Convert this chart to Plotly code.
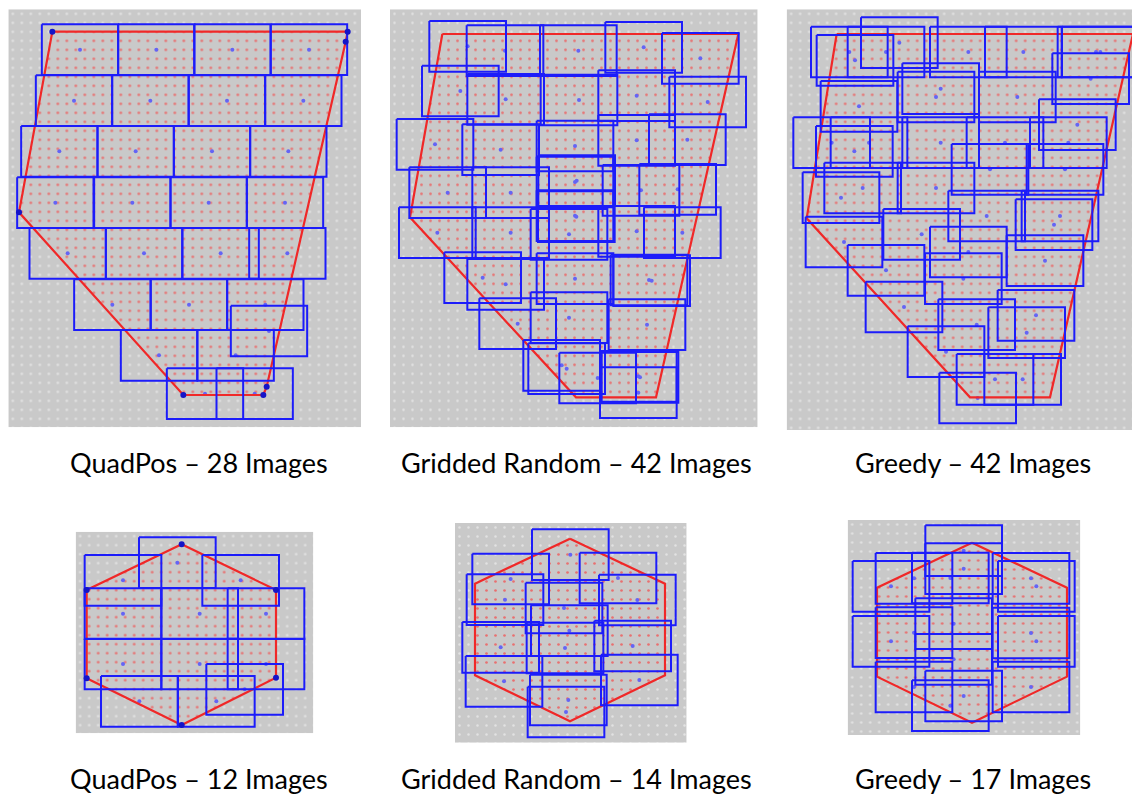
import plotly.graph_objects as go

# ---------------------------------------------------------------------------
# Survey coverage plans: image footprints (blue), survey boundary (red)
# Field coordinates are local survey units, y increasing downward.
# ---------------------------------------------------------------------------

W_PX, H_PX = 1132, 797
UNITS_PER_PX = 3.0

TITLES = [
    "QuadPos \u2013 28 Images",
    "Gridded Random \u2013 42 Images",
    "Greedy \u2013 42 Images",
    "QuadPos \u2013 12 Images",
    "Gridded Random \u2013 14 Images",
    "Greedy \u2013 17 Images",
]

# field extents (x0, x1, y0, y1)
EXTENT_X = [(25, 1083), (30, 1133), (35, 1071), (32, 745), (30, 725), (32, 730)]
EXTENT_Y = [(28, 1282), (28, 1282), (28, 1290), (35, 640), (33, 692), (30, 675)]

# image footprint size (field units)
FOOT_W = [229, 230, 230, 230, 230, 230]
FOOT_H = [152, 152, 152, 152, 152, 152]

# survey boundary polygons
BOUND_X = [
    [157, 1043, 1037, 800, 790, 550, 57],
    [187, 1075, 828, 588, 90],
    [185, 1074, 825, 585, 95],
    [350, 633, 633, 350, 65, 65],
    [375, 660, 660, 375, 90, 90],
    [405, 690, 690, 405, 120, 120],
]
BOUND_Y = [
    [95, 95, 125, 1160, 1185, 1185, 637],
    [102, 102, 1192, 1192, 652],
    [102, 102, 1192, 1192, 655],
    [73, 210, 473, 615, 475, 210],
    [80, 215, 490, 628, 490, 215],
    [98, 233, 500, 638, 500, 233],
]

# image centres
CX_QUAD_A = [240, 469, 697, 927, 222, 451, 681, 910, 178, 407, 636, 865,
             166, 397, 626, 855, 203, 432, 662, 862, 337, 567, 796, 807,
             477, 707, 615, 764]
CY_QUAD_A = [149, 149, 149, 149, 302, 302, 302, 302, 454, 454, 454, 454,
             608, 608, 608, 608, 760, 760, 760, 760, 914, 914, 914, 993,
             1066, 1066, 1181, 1181]

CX_GRID_A = [263, 375, 595, 791, 961, 241, 377, 597, 770, 983, 165, 362,
             585, 770, 922, 203, 392, 585, 783, 893, 172, 392, 567, 585,
             770, 907, 308, 377, 585, 807, 815, 413, 567, 801, 545, 560,
             653, 775, 775, 590, 589, 780]
CY_GRID_A = [139, 152, 152, 142, 175, 273, 298, 300, 287, 306, 433, 449,
             438, 421, 419, 578, 578, 546, 571, 568, 698, 698, 703, 647,
             694, 698, 833, 853, 836, 840, 842, 971, 953, 974, 1096, 1106,
             1134, 1129, 1178, 542, 650, 1132]

CX_GREEDY_A = [223, 240, 333, 373, 580, 745, 963, 976, 947, 252, 497, 483,
               727, 907, 170, 238, 282, 497, 690, 880, 645, 870, 198, 263,
               483, 635, 855, 837, 207, 440, 580, 333, 565, 810, 387, 605,
               783, 755, 513, 660, 743, 608]
CY_GREEDY_A = [156, 181, 156, 128, 156, 156, 156, 156, 236, 319, 266, 291,
               291, 374, 428, 454, 428, 428, 428, 428, 508, 508, 593, 564,
               564, 648, 648, 674, 726, 703, 756, 811, 836, 782, 921, 974,
               946, 998, 1055, 1138, 1138, 1194]

CX_QUAD_B = [337, 174, 527, 174, 174, 404, 404, 603, 603, 539, 223, 454]
CY_QUAD_B = [128, 181, 181, 281, 432, 281, 432, 281, 432, 508, 544, 544]

CX_GRID_B = [376, 197, 519, 180, 577, 357, 373, 167, 563, 360, 177, 583,
             370, 363]
CY_GRID_B = [128, 201, 198, 263, 264, 288, 356, 406, 402, 408, 508, 504,
             564, 600]

CX_GREEDY_B = [380, 380, 231, 162, 340, 582, 598, 231, 162, 350, 582, 598,
               350, 231, 582, 380, 340]
CY_GREEDY_B = [122, 176, 205, 229, 204, 205, 229, 368, 394, 341, 369, 394,
               448, 531, 531, 558, 587]

CENTRES_X = [CX_QUAD_A, CX_GRID_A, CX_GREEDY_A, CX_QUAD_B, CX_GRID_B, CX_GREEDY_B]
CENTRES_Y = [CY_QUAD_A, CY_GRID_A, CY_GREEDY_A, CY_QUAD_B, CY_GRID_B, CY_GREEDY_B]

# QuadPos plans mark the boundary corners
MARK_CORNERS = [True, False, False, True, False, False]

# ---------------------------------------------------------------------------
# panel placement on the page (pixels: left, top)
PANEL_ORIGIN = [(0, 0), (380, 0), (775, 0), (65, 520), (445, 512), (837, 510)]
CAPTION_POS = [(199, 463), (576, 463), (973, 463), (199, 778), (576, 778), (973, 778)]

GRAY = "#c9c9c9"
BLUE = "rgb(28,28,250)"
RED = "rgb(240,40,40)"

fig = go.Figure()

for i in range(6):
    sfx = "" if i == 0 else str(i + 1)
    xa, ya = "x" + sfx, "y" + sfx
    ex0, ex1 = EXTENT_X[i]
    ey0, ey1 = EXTENT_Y[i]
    ox, oy = PANEL_ORIGIN[i]
    left = ox + ex0 / UNITS_PER_PX
    right = min(W_PX, ox + ex1 / UNITS_PER_PX)
    top = oy + ey0 / UNITS_PER_PX
    bottom = oy + ey1 / UNITS_PER_PX

    fig.update_layout(**{
        "xaxis" + sfx: dict(domain=[left / W_PX, right / W_PX], range=[ex0, ex1],
                            visible=False, anchor=ya, fixedrange=True),
        "yaxis" + sfx: dict(domain=[1 - bottom / H_PX, 1 - top / H_PX],
                            range=[ey1, ey0], visible=False, anchor=xa,
                            fixedrange=True),
    })

    # sampling grid over the whole field
    fig.add_trace(go.Scatter(
        x=[ex0, ex1, ex1, ex0, ex0], y=[ey0, ey0, ey1, ey1, ey0],
        xaxis=xa, yaxis=ya, mode="lines", line=dict(width=0),
        fill="toself", fillcolor=GRAY,
        fillpattern=dict(shape=".", fgcolor="#e2e2e2", bgcolor=GRAY,
                         size=9, solidity=0.06, fillmode="replace"),
        hoverinfo="skip", showlegend=False))

    # survey boundary with the interior sample points
    bx = BOUND_X[i] + [BOUND_X[i][0]]
    by = BOUND_Y[i] + [BOUND_Y[i][0]]
    fig.add_trace(go.Scatter(
        x=bx, y=by, xaxis=xa, yaxis=ya, mode="lines",
        line=dict(color="rgba(0,0,0,0)", width=0),
        fill="toself", fillcolor=GRAY,
        fillpattern=dict(shape=".", fgcolor="rgb(232,112,112)", bgcolor=GRAY,
                         size=9, solidity=0.07, fillmode="replace"),
        hoverinfo="skip", showlegend=False))

    # image centres
    fig.add_trace(go.Scatter(
        x=CENTRES_X[i], y=CENTRES_Y[i], xaxis=xa, yaxis=ya, mode="markers",
        marker=dict(size=4, color="rgb(100,100,245)"),
        hoverinfo="skip", showlegend=False))

    # boundary outline
    fig.add_trace(go.Scatter(
        x=bx, y=by, xaxis=xa, yaxis=ya, mode="lines",
        line=dict(color=RED, width=2.2),
        hoverinfo="skip", showlegend=False))

    # image footprints
    hw, hh = FOOT_W[i] / 2, FOOT_H[i] / 2
    rx, ry = [], []
    for cx, cy in zip(CENTRES_X[i], CENTRES_Y[i]):
        rx += [cx - hw, cx + hw, cx + hw, cx - hw, cx - hw, None]
        ry += [cy - hh, cy - hh, cy + hh, cy + hh, cy - hh, None]
    fig.add_trace(go.Scatter(
        x=rx, y=ry, xaxis=xa, yaxis=ya, mode="lines",
        line=dict(color=BLUE, width=2),
        hoverinfo="skip", showlegend=False))

    if MARK_CORNERS[i]:
        fig.add_trace(go.Scatter(
            x=BOUND_X[i], y=BOUND_Y[i], xaxis=xa, yaxis=ya, mode="markers",
            marker=dict(size=6, color="rgb(20,20,200)", symbol="circle"),
            hoverinfo="skip", showlegend=False))

    fig.add_annotation(
        x=CAPTION_POS[i][0] / W_PX, y=1 - CAPTION_POS[i][1] / H_PX,
        xref="paper", yref="paper", text=TITLES[i], showarrow=False,
        xanchor="center", yanchor="middle",
        font=dict(family="Lato, Open Sans, sans-serif", size=27, color="black"))

fig.update_layout(
    width=W_PX, height=H_PX,
    margin=dict(l=0, r=0, t=0, b=0),
    paper_bgcolor="white", plot_bgcolor="white",
    showlegend=False,
)

fig.write_html("out.html", config={"displayModeBar": False})
